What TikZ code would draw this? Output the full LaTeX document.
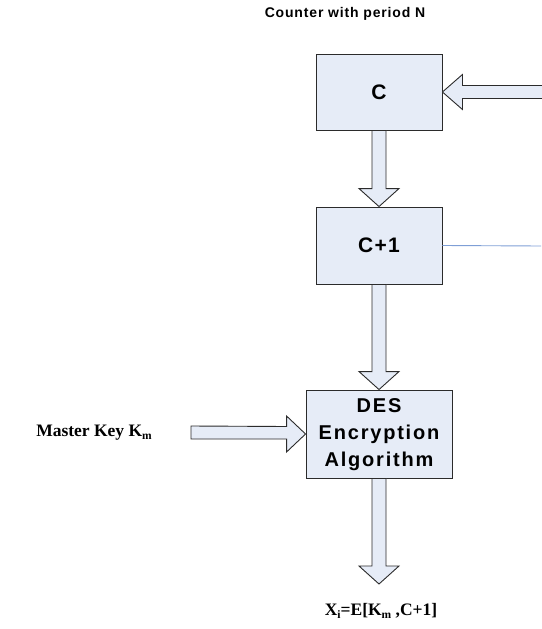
\documentclass[tikz,border=0pt]{standalone}
\usepackage{fontspec}
\setmainfont{Liberation Serif}
\newfontfamily\arialA[LetterSpace=6]{Liberation Sans}
\newfontfamily\arialB[LetterSpace=6]{Liberation Sans}
\newfontfamily\arialC[LetterSpace=9]{Liberation Sans}
\usetikzlibrary{calc}
\definecolor{boxfill}{HTML}{E6ECF7}
\definecolor{edge}{HTML}{2B2B2B}
\definecolor{linkblue}{HTML}{7F9FD6}
\newcommand{\sbs}[1]{\raisebox{-0.3ex}{\fontsize{11.5}{12}\selectfont #1}}
\tikzset{
  blockbox/.style={draw=edge, fill=boxfill, line width=0.9pt, inner sep=0pt},
  blk/.style={draw=edge, fill=boxfill, line width=0.9pt, line join=miter},
  serl/.style={font=\fontsize{17.5}{20}\selectfont\bfseries, inner sep=0pt}
}
\begin{document}
\begin{tikzpicture}[x=1pt,y=-1pt]
\useasboundingbox (0,0) rectangle (541,629);
% boxes
\node[blockbox, minimum width=126pt, minimum height=76pt, font=\arialB\fontsize{21}{23}\selectfont\bfseries] (c) at (379,92) {C};
\node[blockbox, minimum width=126pt, minimum height=77pt, font=\arialB\fontsize{21}{23}\selectfont\bfseries] (c1) at (379,245.5) {C+1};
\node[blockbox, minimum width=146pt, minimum height=88pt, font=\arialC\fontsize{20}{27}\selectfont\bfseries] (des) at (379,434)
  {\raisebox{-3pt}{\begin{tabular}{@{}c@{}}DES\\Encryption\\Algorithm\end{tabular}}};
% texts
\node[font=\arialA\fontsize{14}{16}\selectfont\bfseries, inner sep=0pt] (title) at (345,14) {Counter with period N};
\node[serl, anchor=east] (mk) at (152,433) {Master Key K\sbs{m}};
\node[serl] (out) at (381,611) {X\sbs{i}=E[K\sbs{m} ,C+1]};
% coordinates for free ends
\coordinate (rin) at (541,92);
\coordinate (rout) at (541,246);
\coordinate (mkend) at (191,432.5);
\coordinate (outtip) at (379,584);
% C -> C+1
\draw[blk] ($(c.south)+(-7,0)$) -- ($(c1.north)+(-7,-18)$) -- ($(c1.north)+(-20,-18)$) -- (c1.north)
  -- ($(c1.north)+(20,-18)$) -- ($(c1.north)+(7,-18)$) -- ($(c.south)+(7,0)$) -- cycle;
% C+1 -> DES
\draw[blk] ($(c1.south)+(-7,0)$) -- ($(des.north)+(-7,-18)$) -- ($(des.north)+(-20,-18)$) -- (des.north)
  -- ($(des.north)+(20,-18)$) -- ($(des.north)+(7,-18)$) -- ($(c1.south)+(7,0)$) -- cycle;
% DES -> output
\draw[blk] ($(des.south)+(-7,0)$) -- ($(outtip)+(-7,-18)$) -- ($(outtip)+(-20,-18)$) -- (outtip)
  -- ($(outtip)+(20,-18)$) -- ($(outtip)+(7,-18)$) -- ($(des.south)+(7,0)$) -- cycle;
% Master key -> DES
\draw[blk] ($(mkend)+(0,-6.5)$) -- ($(des.west)+(-19,-7.5)$) -- ($(des.west)+(-19,-18)$) -- (des.west)
  -- ($(des.west)+(-19,18)$) -- ($(des.west)+(-19,5)$) -- ($(mkend)+(0,6.5)$) -- cycle;
% right input -> C
\fill[boxfill] ($(rin)+(1,-6.5)$) -- ($(c.east)+(20,-6.5)$) -- ($(c.east)+(20,-17.5)$) -- (c.east)
  -- ($(c.east)+(20,17.5)$) -- ($(c.east)+(20,6.5)$) -- ($(rin)+(1,6.5)$) -- cycle;
\draw[blk, fill=none] ($(rin)+(1,-6.5)$) -- ($(c.east)+(20,-6.5)$) -- ($(c.east)+(20,-17.5)$) -- (c.east)
  -- ($(c.east)+(20,17.5)$) -- ($(c.east)+(20,6.5)$) -- ($(rin)+(1,6.5)$);
% C+1 blue link
\draw[linkblue, line width=0.9pt] (c1.east) -- (rout);
\end{tikzpicture}
\end{document}
